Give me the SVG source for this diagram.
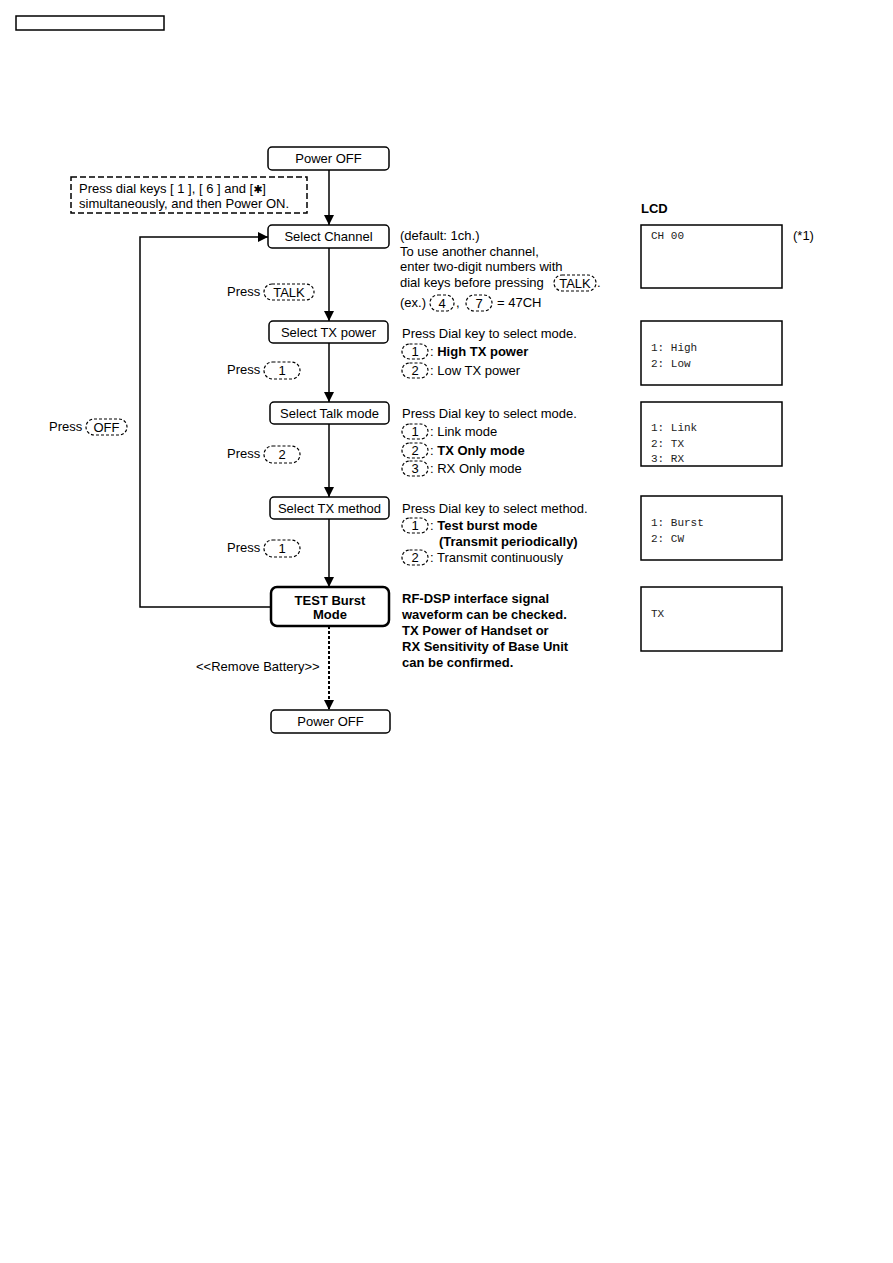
<svg xmlns="http://www.w3.org/2000/svg" width="893" height="1263" viewBox="0 0 893 1263">
<defs>
<marker id="ah" markerWidth="12" markerHeight="12" refX="10" refY="5" orient="auto" markerUnits="userSpaceOnUse">
<path d="M0,0 L10,5 L0,10 Z" fill="#000"/>
</marker>
<style>
.t{font-family:"Liberation Sans",Arial,sans-serif;font-size:13px;fill:#000}
.b{font-weight:bold}
.c{text-anchor:middle}
.m{font-family:"Liberation Mono","Courier New",monospace;font-size:11px;fill:#222}
.box{fill:#fff;stroke:#000;stroke-width:1.5}
.bold{fill:#fff;stroke:#000;stroke-width:2.5}
.lcd{fill:#fff;stroke:#000;stroke-width:1.5}
.key{fill:none;stroke:#000;stroke-width:1.2;stroke-dasharray:3 2}
.ln{fill:none;stroke:#000;stroke-width:1.5}
</style>
</defs>
<rect x="16" y="16" width="148" height="14" fill="none" stroke="#000" stroke-width="1.5"/>

<g id="connectors">
<line class="ln" x1="329" y1="170" x2="329" y2="225" marker-end="url(#ah)"/>
<line class="ln" x1="329" y1="248" x2="329" y2="321" marker-end="url(#ah)"/>
<line class="ln" x1="329" y1="343" x2="329" y2="402" marker-end="url(#ah)"/>
<line class="ln" x1="329" y1="424" x2="329" y2="497" marker-end="url(#ah)"/>
<line class="ln" x1="329" y1="519" x2="329" y2="587" marker-end="url(#ah)"/>
<line x1="329" y1="626" x2="329" y2="710" stroke="#000" stroke-width="2" stroke-dasharray="3 2" marker-end="url(#ah)"/>
<polyline class="ln" points="270,607 140,607 140,237 268,237" marker-end="url(#ah)"/>
</g>

<g id="note">
<rect x="71" y="177" width="236" height="36" fill="#fff" stroke="#000" stroke-width="1.5" stroke-dasharray="6 3"/>
<text class="t" x="79" y="193">Press dial keys [ 1 ], [ 6 ] and [<tspan font-family="DejaVu Sans" font-size="11">✱</tspan>]</text>
<text class="t" x="79" y="208">simultaneously, and then Power ON.</text>
</g>

<g id="power-off-top">
<rect class="box" x="268" y="147" width="121" height="23" rx="4"/>
<text class="t c" x="328.5" y="163">Power OFF</text>
</g>
<g id="select-channel">
<rect class="box" x="268" y="225" width="121" height="23" rx="4"/>
<text class="t c" x="328.5" y="241">Select Channel</text>
</g>
<g id="select-tx-power">
<rect class="box" x="269" y="321" width="119" height="22" rx="4"/>
<text class="t c" x="328.5" y="337">Select TX power</text>
</g>
<g id="select-talk-mode">
<rect class="box" x="270" y="402" width="119" height="22" rx="4"/>
<text class="t c" x="329.5" y="418">Select Talk mode</text>
</g>
<g id="select-tx-method">
<rect class="box" x="270" y="497" width="119" height="22" rx="4"/>
<text class="t c" x="329.5" y="513">Select TX method</text>
</g>
<g id="test-burst-mode">
<rect class="bold" x="271" y="587" width="118" height="39" rx="6"/>
<text class="t b c" x="330" y="605">TEST Burst</text>
<text class="t b c" x="330" y="619">Mode</text>
</g>
<g id="power-off-bottom">
<rect class="box" x="271" y="710" width="119" height="23" rx="4"/>
<text class="t c" x="330.5" y="726">Power OFF</text>
</g>

<g id="press-labels">
<text class="t" x="227" y="296">Press</text>
<rect class="key" x="264" y="284" width="50" height="16" rx="8"/>
<text class="t c" x="289" y="297">TALK</text>
<text class="t" x="227" y="374">Press</text>
<rect class="key" x="264" y="362" width="36" height="17" rx="8.5"/>
<text class="t c" x="282" y="375">1</text>
<text class="t" x="49" y="431">Press</text>
<rect class="key" x="86" y="419" width="41" height="16" rx="8"/>
<text class="t c" x="106.5" y="432">OFF</text>
<text class="t" x="227" y="458">Press</text>
<rect class="key" x="264" y="446" width="36" height="17" rx="8.5"/>
<text class="t c" x="282" y="459">2</text>
<text class="t" x="227" y="552">Press</text>
<rect class="key" x="264" y="540" width="36" height="17" rx="8.5"/>
<text class="t c" x="282" y="553">1</text>
<text class="t" x="196" y="671">&lt;&lt;Remove Battery&gt;&gt;</text>
</g>

<g id="channel-notes">
<text class="t" x="400" y="240">(default: 1ch.)</text>
<text class="t" x="400" y="256">To use another channel,</text>
<text class="t" x="400" y="271">enter two-digit numbers with</text>
<text class="t" x="400" y="287">dial keys before pressing</text>
<rect class="key" x="554" y="275" width="42" height="16" rx="8"/>
<text class="t c" x="575" y="288">TALK</text>
<text class="t" x="597" y="287">.</text>
<text class="t" x="400" y="307">(ex.)</text>
<rect class="key" x="430" y="295" width="24" height="16" rx="8"/>
<text class="t c" x="442" y="308">4</text>
<text class="t" x="456" y="307">,</text>
<rect class="key" x="466" y="295" width="26" height="16" rx="8"/>
<text class="t c" x="479" y="308">7</text>
<text class="t" x="497" y="307">= 47CH</text>
</g>

<g id="power-notes">
<text class="t" x="402" y="338">Press Dial key to select mode.</text>
<rect class="key" x="402" y="344" width="26" height="15" rx="7.5"/>
<text class="t c" x="415" y="356">1</text>
<text class="t" x="430" y="356">: <tspan class="b">High TX power</tspan></text>
<rect class="key" x="402" y="363" width="26" height="15" rx="7.5"/>
<text class="t c" x="415" y="375">2</text>
<text class="t" x="430" y="375">: Low TX power</text>
</g>

<g id="talk-notes">
<text class="t" x="402" y="418">Press Dial key to select mode.</text>
<rect class="key" x="402" y="424" width="26" height="15" rx="7.5"/>
<text class="t c" x="415" y="436">1</text>
<text class="t" x="430" y="436">: Link mode</text>
<rect class="key" x="402" y="443" width="26" height="15" rx="7.5"/>
<text class="t c" x="415" y="455">2</text>
<text class="t" x="430" y="455">: <tspan class="b">TX Only mode</tspan></text>
<rect class="key" x="402" y="461" width="26" height="15" rx="7.5"/>
<text class="t c" x="415" y="473">3</text>
<text class="t" x="430" y="473">: RX Only mode</text>
</g>

<g id="method-notes">
<text class="t" x="402" y="513">Press Dial key to select method.</text>
<rect class="key" x="402" y="518" width="26" height="15" rx="7.5"/>
<text class="t c" x="415" y="530">1</text>
<text class="t" x="430" y="530">: <tspan class="b">Test burst mode</tspan></text>
<text class="t b" x="439" y="546">(Transmit periodically)</text>
<rect class="key" x="402" y="550" width="26" height="15" rx="7.5"/>
<text class="t c" x="415" y="562">2</text>
<text class="t" x="430" y="562">: Transmit continuously</text>
</g>

<g id="burst-notes">
<text class="t b" x="402" y="603">RF-DSP interface signal</text>
<text class="t b" x="402" y="619">waveform can be checked.</text>
<text class="t b" x="402" y="635">TX Power of Handset or</text>
<text class="t b" x="402" y="651">RX Sensitivity of Base Unit</text>
<text class="t b" x="402" y="667">can be confirmed.</text>
</g>

<g id="lcd">
<text class="t b" x="641" y="213">LCD</text>
<rect class="lcd" x="641" y="225" width="141" height="63"/>
<text class="m" x="651" y="239">CH 00</text>
<text class="t" x="793" y="240">(*1)</text>
<rect class="lcd" x="641" y="321" width="141" height="64"/>
<text class="m" x="651" y="351">1: High</text>
<text class="m" x="651" y="367">2: Low</text>
<rect class="lcd" x="641" y="402" width="141" height="64"/>
<text class="m" x="651" y="431">1: Link</text>
<text class="m" x="651" y="447">2: TX</text>
<text class="m" x="651" y="462">3: RX</text>
<rect class="lcd" x="641" y="496" width="141" height="64"/>
<text class="m" x="651" y="526">1: Burst</text>
<text class="m" x="651" y="542">2: CW</text>
<rect class="lcd" x="641" y="587" width="141" height="64"/>
<text class="m" x="651" y="617">TX</text>
</g>
</svg>
